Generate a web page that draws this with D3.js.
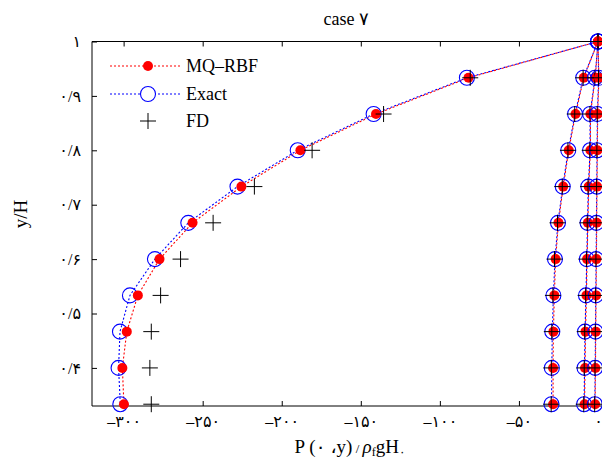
<!DOCTYPE html>
<html>
<head>
<meta charset="utf-8">
<script src="https://cdn.jsdelivr.net/npm/d3@7"></script>
<style>
  html, body { margin: 0; padding: 0; background: #fff; }
  svg { display: block; }
  text { font-family: "Liberation Serif", "DejaVu Sans", serif; fill: #000; }
</style>
</head>
<body>
<div id="chart"></div>
<script>
// Depth levels y/H at which the pressure profiles are sampled
const yLevels = [1, 0.9333, 0.8667, 0.8, 0.7333, 0.6667, 0.6, 0.5333, 0.4667, 0.4, 0.3333];

// Dimensionless pressure P(0,y)/(rho g H) for each profile and method
const mqMain    = [0, -81.9, -140.4, -188.2, -225.5, -256.4, -277.3, -291.0, -298.0, -300.8, -299.8];
const exactMain = [0, -82.9, -141.9, -189.9, -228.0, -259.1, -280.2, -296.0, -302.3, -303.2, -302.1];
const fdMain    = [0, -80.8, -135.6, -180.8, -217.3, -243.4, -264.0, -276.6, -282.5, -283.4, -282.5];

const mqA    = [0, -9.0, -14.2, -18.5, -22.0, -25.0, -26.8, -27.6, -28.2, -28.4, -28.4];
const exactA = [0, -9.3, -14.5, -18.8, -22.3, -25.3, -27.2, -28.2, -28.9, -29.2, -29.4];
const fdA    = [0, -9.4, -14.7, -19.0, -22.6, -25.6, -27.5, -28.5, -29.2, -29.5, -29.6];

const mqB    = [0, -1.7, -4.8, -4.8, -5.9, -6.4, -6.9, -7.3, -7.9, -8.2, -8.5];
const exactB = [0, -1.9, -5.0, -5.0, -6.1, -6.6, -7.1, -7.6, -8.2, -8.5, -8.8];
const fdB    = [0, -2.0, -5.1, -5.2, -6.3, -6.8, -7.3, -7.8, -8.4, -8.7, -9.0];

const mqC    = [0, 0.6, -0.2, -0.4, -0.6, -0.8, -1.0, -1.2, -1.4, -1.6, -1.8];
const exactC = [0, 0.4, -0.4, -0.6, -0.8, -1.0, -1.2, -1.4, -1.6, -1.8, -2.0];
const fdC    = [0, 0.3, -0.5, -0.7, -0.9, -1.1, -1.3, -1.5, -1.7, -1.9, -2.1];

const xTicks = [-300, -250, -200, -150, -100, -50, 0];
const yTicks = [0.4, 0.5, 0.6, 0.7, 0.8, 0.9, 1];

const legendLabels = ["MQ\u2013RBF", "Exact", "FD"];
const titleText = "case \u06F7";

// Persian digits for tick labels
const fa = s => String(s).replace(/[0-9]/g, d => "\u06F0\u06F1\u06F2\u06F3\u06F4\u06F5\u06F6\u06F7\u06F8\u06F9"[+d]);
const fmtX = v => v < 0 ? "\u2013" + fa(Math.abs(v)) : fa(v);
const fmtY = v => v === 1 ? fa(1) : fa("0/" + Math.round(v * 10));

const W = 602, H = 462;
const svg = d3.select("#chart").append("svg").attr("width", W).attr("height", H);

const x = d3.scaleLinear().domain([-320, 10]).range([92, 613.8]);
const y = d3.scaleLinear().domain([0.33, 1]).range([406, 41.5]);

const profiles = [
  { mq: mqMain, ex: exactMain, fd: fdMain },
  { mq: mqA, ex: exactA, fd: fdA },
  { mq: mqB, ex: exactB, fd: fdB },
  { mq: mqC, ex: exactC, fd: fdC }
];

// Frame and axes (ticks point inward)
const x0 = x.range()[0], x1 = x.range()[1], yTop = y.range()[1], yBot = y.range()[0];
const frame = svg.append("g").attr("stroke", "#000").attr("stroke-width", 1).attr("fill", "none");
frame.append("path").attr("d", `M${x1},${yTop}H${x0}V${yBot}H${x1}`);

const axisBottom = d3.axisBottom(x).tickValues(xTicks).tickSize(-5).tickPadding(10).tickFormat(fmtX);
const gx = svg.append("g").attr("transform", `translate(0,${yBot})`).call(axisBottom);
gx.select(".domain").remove();
gx.selectAll("text").attr("font-size", 16).attr("font-family", "'DejaVu Sans', sans-serif");

const axisTop = d3.axisTop(x).tickValues(xTicks).tickSize(-5).tickFormat("");
const gxt = svg.append("g").attr("transform", `translate(0,${yTop})`).call(axisTop);
gxt.select(".domain").remove();

const axisLeft = d3.axisLeft(y).tickValues(yTicks).tickSize(-5).tickPadding(11).tickFormat(fmtY);
const gy = svg.append("g").attr("transform", `translate(${x0},0)`).call(axisLeft);
gy.select(".domain").remove();
gy.selectAll("text").attr("font-size", 16).attr("font-family", "'DejaVu Sans', sans-serif");

// Title and axis labels
svg.append("text").attr("x", 346).attr("y", 25).attr("text-anchor", "middle")
  .attr("font-size", 18).text(titleText);

svg.append("text").attr("transform", "translate(27,214) rotate(-90)")
  .attr("text-anchor", "middle").attr("font-size", 19).text("y/H");

const xl = svg.append("text").attr("x", 350).attr("y", 453).attr("text-anchor", "middle").attr("font-size", 19);
xl.append("tspan").text("P (\u06F0 \u060Cy)");
xl.append("tspan").attr("font-size", 13).text(" / ");
xl.append("tspan").attr("font-style", "italic").text("\u03C1");
xl.append("tspan").attr("font-size", 12).attr("dy", 3).text("f");
xl.append("tspan").attr("dy", -3).text("gH");
xl.append("tspan").attr("font-size", 12).attr("dy", 3).text("\u06F0");

// Profiles
const line = d3.line().x(d => x(d[0])).y(d => y(d[1]));
const plot = svg.append("g");

profiles.forEach(p => {
  const ex = p.ex.map((v, i) => [v, yLevels[i]]);
  const mq = p.mq.map((v, i) => [v, yLevels[i]]);
  plot.append("path").datum(ex).attr("d", line).attr("fill", "none")
    .attr("stroke", "#0000ff").attr("stroke-width", 1.1).attr("stroke-dasharray", "2,2");
  plot.append("path").datum(mq).attr("d", line).attr("fill", "none")
    .attr("stroke", "#ff0000").attr("stroke-width", 1.1).attr("stroke-dasharray", "2,2")
    .attr("stroke-dashoffset", 2);
});

profiles.forEach(p => {
  const ex = p.ex.map((v, i) => [v, yLevels[i]]);
  const mq = p.mq.map((v, i) => [v, yLevels[i]]);
  const fd = p.fd.map((v, i) => [v, yLevels[i]]);
  plot.append("g").selectAll("circle").data(ex).join("circle")
    .attr("cx", d => x(d[0])).attr("cy", d => y(d[1])).attr("r", 7.5)
    .attr("fill", "none").attr("stroke", "#0000ff").attr("stroke-width", 1.1);
  plot.append("g").selectAll("circle").data(mq).join("circle")
    .attr("cx", d => x(d[0])).attr("cy", d => y(d[1])).attr("r", 5)
    .attr("fill", "#ff0000");
  plot.append("g").selectAll("path").data(fd).join("path")
    .attr("d", d => `M${x(d[0]) - 8},${y(d[1])}h16M${x(d[0])},${y(d[1]) - 8}v16`)
    .attr("stroke", "#000").attr("stroke-width", 1);
});

// Legend
const legend = svg.append("g");
const rows = [66, 94, 121];
legend.append("path").attr("d", `M110,${rows[0]}H180`).attr("stroke", "#ff0000")
  .attr("stroke-width", 1.1).attr("stroke-dasharray", "2,2");
legend.append("circle").attr("cx", 148).attr("cy", rows[0]).attr("r", 5).attr("fill", "#ff0000");
legend.append("path").attr("d", `M110,${rows[1]}H180`).attr("stroke", "#0000ff")
  .attr("stroke-width", 1.1).attr("stroke-dasharray", "2,2");
legend.append("circle").attr("cx", 148).attr("cy", rows[1]).attr("r", 7.5)
  .attr("fill", "#fff").attr("stroke", "#0000ff").attr("stroke-width", 1.1);
legend.append("path").attr("d", `M140,${rows[2]}h16M148,${rows[2] - 8}v16`).attr("stroke", "#000");
legendLabels.forEach((t, i) => {
  legend.append("text").attr("x", 186).attr("y", rows[i] + 6).attr("font-size", 18).text(t);
});
</script>
</body>
</html>
